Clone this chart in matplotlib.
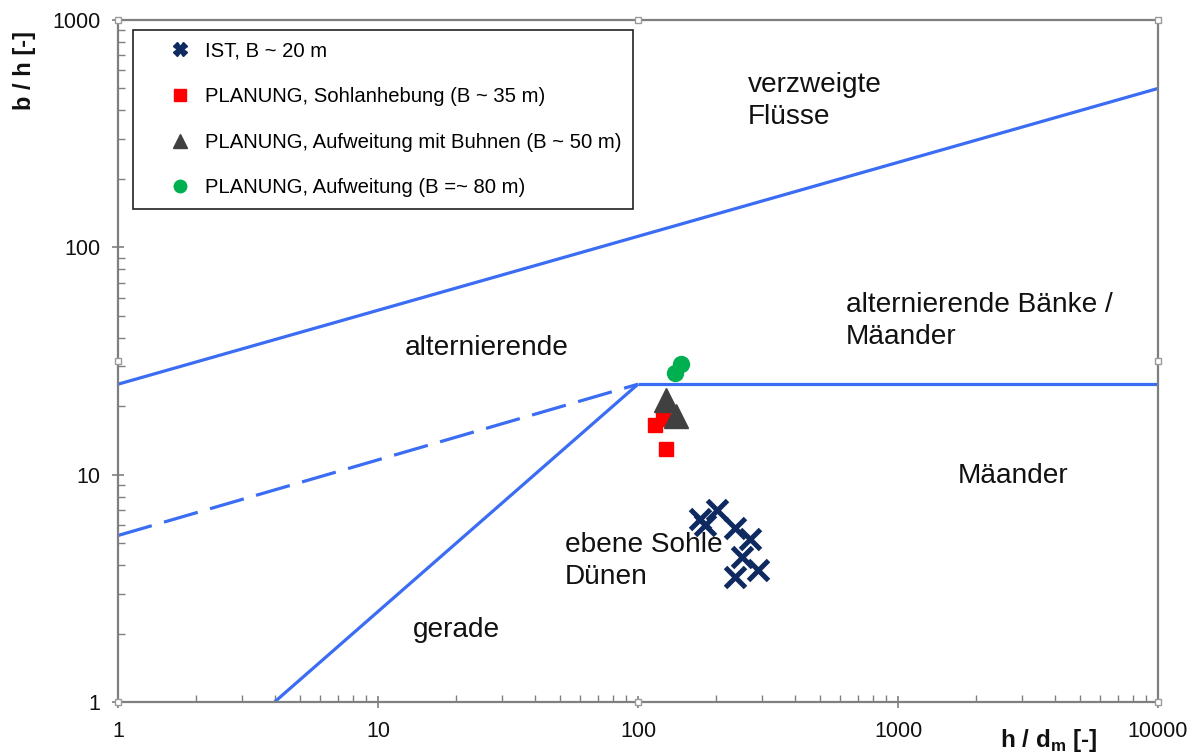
import matplotlib
matplotlib.use("Agg")
import matplotlib.pyplot as plt
from matplotlib.lines import Line2D
from matplotlib.ticker import FixedLocator, FuncFormatter, LogLocator, NullFormatter

plt.rcParams['font.family'] = ['Liberation Sans', 'DejaVu Sans']

# ---- data ----
ist_x = [173, 181, 201, 236, 270, 251, 289, 236]
ist_y = [6.38, 6.01, 7.0, 5.83, 5.21, 4.35, 3.81, 3.55]

sohl_x = [116, 125, 128]
sohl_y = [16.5, 17.6, 13.0]

buhnen_x = [128, 140]
buhnen_y = [21.3, 18.1]

aufw_x = [139, 146]
aufw_y = [28.0, 30.7]

# regime boundaries
upper_x = [1, 10000]
upper_y = [25, 500]
horiz_x = [100, 10000]
horiz_y = [25, 25]
gerade_x = [4, 100]
gerade_y = [1, 25]
dash_x = [1, 100]
dash_y = [5.4, 25]

labels = ["IST, B ~ 20 m",
          "PLANUNG, Sohlanhebung (B ~ 35 m)",
          "PLANUNG, Aufweitung mit Buhnen (B ~ 50 m)",
          "PLANUNG, Aufweitung (B =~ 80 m)"]

region_texts = [("verzweigte\nFlüsse", 265, 441),
                ("alternierende", 12.7, 36.1),
                ("alternierende Bänke /\nMäander", 631, 47.5),
                ("Mäander", 1702, 9.87),
                ("ebene Sohle\nDünen", 52.4, 4.17),
                ("gerade", 13.6, 2.07)]

xticks = [1, 10, 100, 1000, 10000]
yticks = [1, 10, 100, 1000]

# ---- colours ----
blue = '#3b6cf4'
navy = '#0e2a60'
red = '#ff0000'
dgray = '#404040'
green = '#00b050'
spine_gray = '#7f7f7f'

fig = plt.figure(figsize=(11.95, 7.56), dpi=100)
ax = fig.add_axes([118/1195, 1-702/756, 1040/1195, 682/756])
ax.set_xscale('log')
ax.set_yscale('log')
ax.set_xlim(1, 10000)
ax.set_ylim(1, 1000)

lw = 2.3
ax.plot(upper_x, upper_y, color=blue, lw=lw, solid_capstyle='butt')
ax.plot(horiz_x, horiz_y, color=blue, lw=lw, solid_capstyle='butt')
ax.plot(gerade_x, gerade_y, color=blue, lw=lw, solid_capstyle='butt')
ax.plot(dash_x, dash_y, color=blue, lw=lw, dashes=(11, 4))

ax.plot(ist_x, ist_y, ls='none', marker='x', ms=14, mew=3.6, color=navy, zorder=5)
ax.plot(sohl_x, sohl_y, ls='none', marker='s', ms=10, color=red, mec=red, zorder=5)
ax.plot(buhnen_x, buhnen_y, ls='none', marker='^', ms=17, color=dgray, mec=dgray, zorder=5)
ax.plot(aufw_x, aufw_y, ls='none', marker='o', ms=11.5, color=green, mec=green, zorder=5)

for t, x, y in region_texts:
    ax.text(x, y, t, fontsize=20.2, ha='left', va='center', linespacing=1.3, color='#111111')

# legend
handles = [Line2D([], [], ls='none', marker='X', ms=9.5, color=navy, mec=navy),
           Line2D([], [], ls='none', marker='s', ms=8.5, color=red, mec=red),
           Line2D([], [], ls='none', marker='^', ms=9.5, color=dgray, mec=dgray),
           Line2D([], [], ls='none', marker='o', ms=9, color=green, mec=green)]
leg = ax.legend(handles, labels, loc='upper left',
                bbox_to_anchor=((133-118)/1040, (702-30)/682),
                borderaxespad=0, fontsize=14.6, frameon=True, fancybox=False,
                edgecolor='#222222', framealpha=1, labelspacing=1.32,
                borderpad=0.55, handlelength=3.5, handletextpad=-0.5)
leg.get_frame().set_linewidth(1.2)

# ticks and spines
for s in ax.spines.values():
    s.set_color(spine_gray)
    s.set_linewidth(1.6)

ax.xaxis.set_major_locator(FixedLocator(xticks))
ax.yaxis.set_major_locator(FixedLocator(yticks))
ax.xaxis.set_minor_locator(LogLocator(base=10, subs=range(2, 10), numticks=20))
ax.yaxis.set_minor_locator(LogLocator(base=10, subs=range(2, 10), numticks=20))
fmt = FuncFormatter(lambda v, p: f"{v:g}")
ax.xaxis.set_major_formatter(fmt)
ax.yaxis.set_major_formatter(fmt)
ax.xaxis.set_minor_formatter(NullFormatter())
ax.yaxis.set_minor_formatter(NullFormatter())
ax.tick_params(which='major', direction='inout', length=9, width=1.2, color=spine_gray,
               labelsize=15.5, labelcolor='#111111')
ax.tick_params(axis='x', which='major', pad=9)
ax.tick_params(axis='y', which='major', pad=8)
ax.tick_params(which='minor', direction='in', length=5, width=1.0, color=spine_gray)
ax.tick_params(top=False, right=False, which='both')

# axis titles
fig.text(1049/1195, 1-741/756, r"h / d$_\mathregular{m}$ [-]", fontsize=17.5, fontweight='bold',
         ha='center', va='center', color='#111111')
fig.text(24/1195, 1-70/756, "b / h [-]", fontsize=17, fontweight='bold', rotation=90,
         ha='center', va='center', color='#111111')

# selection handles of the chart frame
hx = [0, 0.5, 1, 0, 1, 0, 0.5, 1]
hy = [1, 1, 1, 0.5, 0.5, 0, 0, 0]
ax.plot(hx, hy, ls='none', marker='s', ms=5, mfc='white', mec='#9a9a9a', mew=1,
        transform=ax.transAxes, clip_on=False, zorder=10)

fig.savefig('out.png', dpi=100)
